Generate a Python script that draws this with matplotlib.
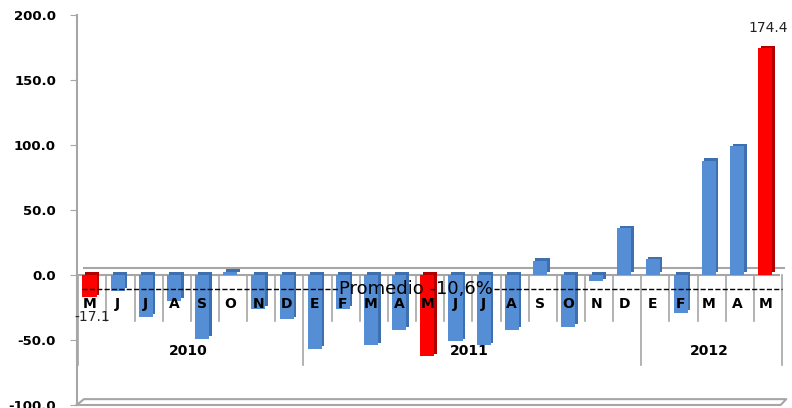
import numpy as np
import matplotlib.pyplot as plt

meses = ['M', 'J', 'J', 'A', 'S', 'O', 'N', 'D',
         'E', 'F', 'M', 'A', 'M', 'J', 'J', 'A', 'S', 'O', 'N', 'D',
         'E', 'F', 'M', 'A', 'M']
anios = ['2010', '2011', '2012']
meses_por_anio = [8, 12, 5]
valores = [-17.1, -12, -32, -20, -49, 2.5, -26, -34,
           -57, -26, -54, -42, -62.5, -51, -54, -42, 11, -40, -5, 36,
           12, -29, 88, 99, 174.4]
destacados = [0, 12, 24]          # mayo de cada año, en rojo
etiquetas = {0: '-17.1', 24: '174.4'}
promedio = -10.6
texto_promedio = 'Promedio -10,6%'

AZUL, AZUL_OSC = '#558ED5', '#3E6FAE'
ROJO, ROJO_OSC = '#FF0000', '#B00000'
GRIS = '#A6A6A6'

fig = plt.figure(figsize=(7.92, 4.08), dpi=100)
ax = fig.add_axes([0.097, 0.0074, 0.894, 0.956])

x = np.arange(len(valores))
col = [ROJO if i in destacados else AZUL for i in x]
col_osc = [ROJO_OSC if i in destacados else AZUL_OSC for i in x]

# falso 3D: cara lateral oscura detras de la cara frontal
ax.bar(x + 0.09, valores, width=0.5, bottom=2, color=col_osc, zorder=2)
ax.bar(x, valores, width=0.5, color=col, zorder=3)

ax.set_xlim(-0.45, 24.7)
ax.set_ylim(-100, 200)
ax.set_yticks(np.arange(-100, 201, 50))
ax.set_yticklabels(['%.1f' % v for v in np.arange(-100, 201, 50)],
                   fontweight='bold', fontsize=9.5)
ax.tick_params(axis='y', length=5, color=GRIS, pad=10)
ax.set_xticks([])
for s in ['top', 'right', 'bottom']:
    ax.spines[s].set_visible(False)
ax.spines['left'].set_color(GRIS)
ax.spines['left'].set_linewidth(1.5)

# plano del eje en cero
ax.plot([-0.45, 24.5], [0, 0], color=GRIS, lw=1.5, zorder=1)
ax.plot([-0.2, 24.75], [5, 5], color=GRIS, lw=1.5, zorder=1)

# piso
ax.plot([-0.45, -0.2, 24.75, 24.55, -0.45], [-100, -95.5, -95.5, -100, -100],
        color=GRIS, lw=1.5, clip_on=False, zorder=1)

# etiquetas de meses y separadores
for i, m in enumerate(meses):
    ax.text(i, -22.4, m, ha='center', va='center', fontweight='bold',
            fontsize=10, zorder=4)
limites = np.cumsum([0] + meses_por_anio)
for k in range(len(valores) + 1):
    fondo = -69 if k in limites else -35.5
    ax.plot([k - 0.4, k - 0.4], [0, fondo], color=GRIS, lw=1.2, zorder=1)
for a, ini, fin in zip(anios, limites[:-1], limites[1:]):
    ax.text((ini + fin - 1) / 2, -58.7, a, ha='center', va='center',
            fontweight='bold', fontsize=10)

# etiquetas de datos
for i, t in etiquetas.items():
    off = 14.5 if valores[i] > 0 else -14.5
    ax.annotate(t, (i, valores[i]), xytext=(2, off), textcoords='offset points',
                ha='center', va='center', fontsize=10, color='#222222')

# linea de promedio con el texto encima
tp = ax.text(11.6, promedio, texto_promedio, ha='center', va='center',
             fontsize=13, zorder=6)
fig.canvas.draw()
bb = tp.get_window_extent().transformed(ax.transData.inverted())
ax.plot([-0.25, bb.x0 - 0.05], [promedio, promedio], ls='--', color='black',
        lw=1, zorder=5)
ax.plot([bb.x1 + 0.05, 24.6], [promedio, promedio], ls='--', color='black',
        lw=1, zorder=5)

# titulo recortado en el borde superior, como en el original
fig.text(0.562, 1 + 2 / 408, '(Variación % anual)', ha='center',
         va='baseline', fontsize=13, fontweight='bold')

fig.savefig('out.png', dpi=100)
